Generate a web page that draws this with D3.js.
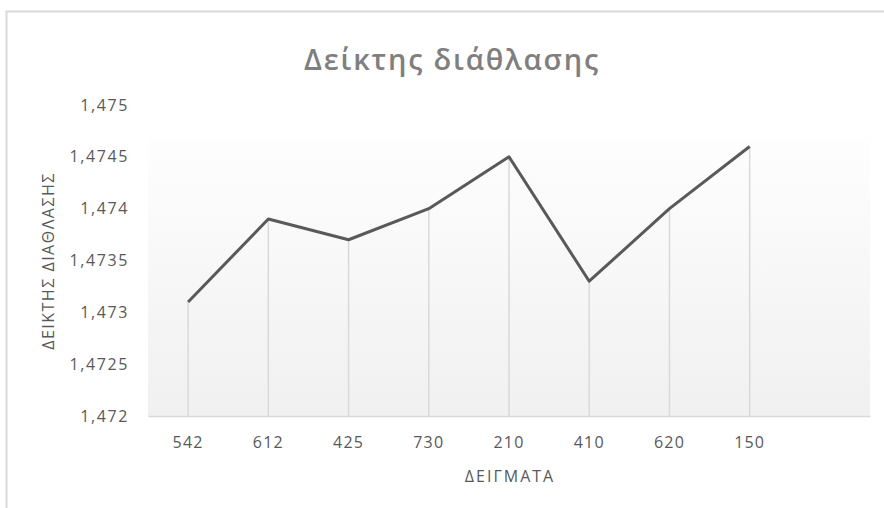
<!DOCTYPE html>
<html>
<head>
<meta charset="utf-8">
<script src="https://cdn.jsdelivr.net/npm/d3@7"></script>
<style>
  html, body { margin: 0; padding: 0; background: #ffffff; }
  svg text { font-family: "Open Sans", "Noto Sans", sans-serif; }
</style>
</head>
<body>
<svg id="chart" width="884" height="508"></svg>
<script>
const categories = ["542", "612", "425", "730", "210", "410", "620", "150"];
const values = [1.4731, 1.4739, 1.4737, 1.4740, 1.4745, 1.4733, 1.4740, 1.4746];
const yTicks = [1.472, 1.4725, 1.473, 1.4735, 1.474, 1.4745, 1.475];
const title = "Δείκτης διάθλασης";
const xTitle = "ΔΕΙΓΜΑΤΑ";
const yTitle = "ΔΕΙΚΤΗΣ ΔΙΑΘΛΑΣΗΣ";

const svg = d3.select("#chart");
const W = 884, H = 508;
const plot = { left: 148, right: 870, top: 105, bottom: 416, fillTop: 138 };

// outer chart border
svg.append("rect")
  .attr("x", 6.5).attr("y", 11.5)
  .attr("width", W + 20).attr("height", H + 20)
  .attr("fill", "#ffffff")
  .attr("stroke", "#d9d9d9").attr("stroke-width", 2);

// gradient
const defs = svg.append("defs");
const grad = defs.append("linearGradient").attr("id", "bg")
  .attr("x1", 0).attr("y1", 0).attr("x2", 0).attr("y2", 1);
grad.append("stop").attr("offset", "0%").attr("stop-color", "#fefefe");
grad.append("stop").attr("offset", "100%").attr("stop-color", "#f0f0f0");

svg.append("rect")
  .attr("x", plot.left).attr("y", plot.fillTop)
  .attr("width", plot.right - plot.left).attr("height", plot.bottom - plot.fillTop)
  .attr("fill", "url(#bg)");

const x = d3.scaleBand()
  .domain(categories.concat([" "]))
  .range([plot.left, plot.right]);
const y = d3.scaleLinear()
  .domain([yTicks[0], yTicks[yTicks.length - 1]])
  .range([plot.bottom, plot.top]);

const fmt = v => d3.format(".4~f")(v).replace(".", ",");

// y axis labels
const yAxis = d3.axisLeft(y).tickValues(yTicks).tickFormat(fmt).tickSize(0).tickPadding(0);
const yg = svg.append("g").attr("transform", `translate(129,0)`).call(yAxis);
yg.select(".domain").remove();
yg.selectAll("text").attr("fill", "#595959").style("font-size", "16px")
  .style("letter-spacing", "1.6px")
  .style("font-family", "'Open Sans', sans-serif");

// x axis
const xAxis = d3.axisBottom(x).tickValues(categories).tickSize(0).tickPadding(21);
const xg = svg.append("g").attr("transform", `translate(0,${plot.bottom})`).call(xAxis);
xg.select(".domain").attr("stroke", "#d9d9d9").attr("stroke-width", 1.5);
xg.selectAll("text").attr("fill", "#595959").style("font-size", "16px")
  .style("letter-spacing", "1.2px")
  .style("font-family", "'Open Sans', sans-serif");

const cx = d => x(d) + x.bandwidth() / 2;

// drop lines
svg.append("g").selectAll("line")
  .data(categories)
  .join("line")
  .attr("x1", (d) => cx(d)).attr("x2", (d) => cx(d))
  .attr("y1", (d, i) => y(values[i])).attr("y2", plot.bottom)
  .attr("stroke", "#d9d9d9").attr("stroke-width", 1.5);

// line
const line = d3.line()
  .x((d, i) => cx(categories[i]))
  .y(d => y(d));
svg.append("path")
  .datum(values)
  .attr("d", line)
  .attr("fill", "none")
  .attr("stroke", "#595959")
  .attr("stroke-width", 3)
  .attr("stroke-linejoin", "round");

// title
svg.append("text")
  .attr("x", 452).attr("y", 70)
  .attr("text-anchor", "middle")
  .attr("fill", "#7f7f7f")
  .style("font-size", "29px")
  .style("font-weight", "600")
  .style("letter-spacing", "1.8px")
  .text(title);

// x title
svg.append("text")
  .attr("x", 510).attr("y", 482)
  .attr("text-anchor", "middle")
  .attr("fill", "#595959")
  .style("font-size", "16px")
  .style("letter-spacing", "2px")
  .text(xTitle);

// y title
svg.append("text")
  .attr("transform", "translate(54,261) rotate(-90)")
  .attr("text-anchor", "middle")
  .attr("fill", "#595959")
  .style("font-size", "16px")
  .style("letter-spacing", "1.5px")
  .text(yTitle);
</script>
</body>
</html>
